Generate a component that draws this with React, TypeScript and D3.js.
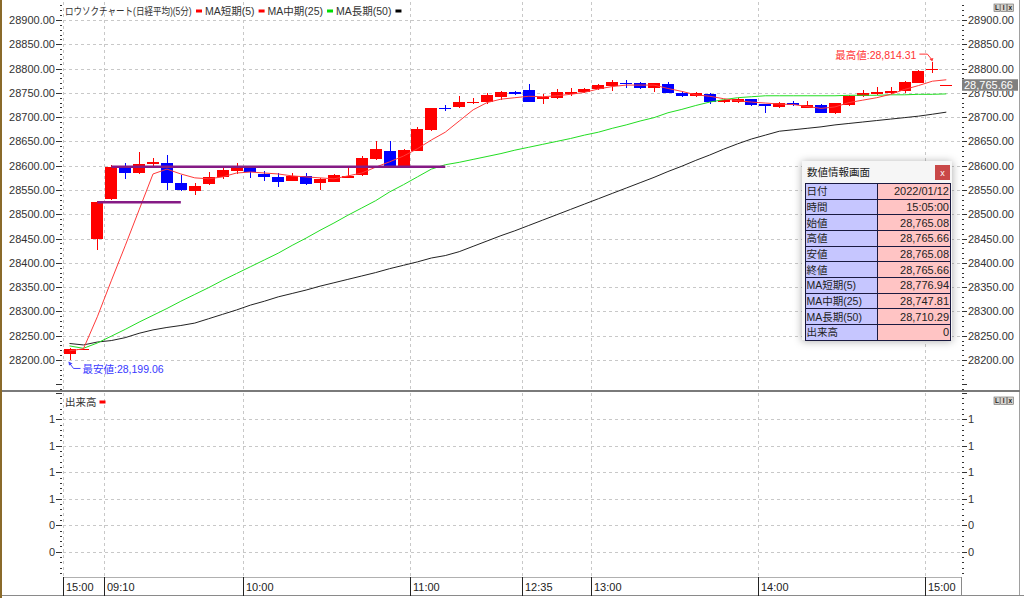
import { useEffect, useRef } from 'react'
import * as d3 from 'd3'

// 5-minute candles, Nikkei 225: [time, open, high, low, close]
const candles: [string, number, number, number, number][] = [
  ['15:00', 28212, 28225, 28199.06, 28223],
  ['15:05', 28222.48, 28222.48, 28222.48, 28222.48],
  ['09:05', 28449, 28527, 28427, 28525],
  ['09:10', 28531, 28601, 28529, 28598],
  ['09:15', 28596, 28606, 28573, 28586],
  ['09:20', 28584, 28629, 28583, 28603],
  ['09:25', 28604, 28615, 28600, 28607],
  ['09:30', 28605, 28622, 28551, 28564],
  ['09:35', 28565, 28581, 28547, 28550],
  ['09:40', 28548, 28565, 28540, 28559],
  ['09:45', 28562, 28588, 28561, 28576],
  ['09:50', 28577, 28599, 28572, 28591],
  ['09:55', 28590, 28605, 28583, 28598],
  ['10:00', 28598, 28600, 28575, 28588],
  ['10:05', 28583, 28589, 28569, 28577],
  ['10:10', 28577, 28584, 28557, 28567],
  ['10:15', 28569, 28584, 28568, 28579],
  ['10:20', 28579, 28586, 28560, 28562],
  ['10:25', 28565, 28574, 28551, 28572],
  ['10:30', 28567, 28583, 28566, 28581],
  ['10:35', 28575, 28600, 28574, 28579],
  ['10:40', 28580, 28619, 28578, 28615],
  ['10:45', 28614, 28651, 28612, 28634],
  ['10:50', 28631, 28650, 28598, 28600],
  ['10:55', 28600, 28634, 28598, 28632],
  ['11:00', 28631, 28679, 28630, 28676],
  ['11:05', 28673, 28719, 28671, 28718],
  ['11:10', 28719, 28724, 28713, 28717],
  ['11:15', 28720, 28744, 28719, 28732],
  ['11:20', 28729, 28739, 28728, 28732],
  ['11:25', 28732, 28750, 28728, 28746],
  ['11:30', 28742, 28754, 28735, 28752],
  ['12:30', 28752, 28753, 28746, 28747],
  ['12:35', 28756, 28768, 28731, 28732],
  ['12:40', 28737, 28748, 28728, 28741],
  ['12:45', 28739, 28758, 28737, 28752],
  ['12:50', 28748, 28761, 28744, 28752],
  ['12:55', 28752, 28760, 28750, 28757],
  ['13:00', 28758, 28768, 28756, 28766],
  ['13:05', 28765, 28776, 28754, 28772],
  ['13:10', 28771, 28776, 28759, 28768],
  ['13:15', 28770, 28772, 28758, 28759],
  ['13:20', 28761, 28771, 28752, 28770],
  ['13:25', 28768, 28772, 28749, 28750],
  ['13:30', 28750, 28754, 28742, 28744],
  ['13:35', 28744, 28751, 28742, 28749],
  ['13:40', 28748, 28750, 28727, 28731],
  ['13:45', 28731, 28738, 28729, 28735],
  ['13:50', 28732, 28740, 28730, 28737],
  ['13:55', 28737, 28738, 28722, 28724],
  ['14:00', 28727, 28728, 28708, 28723],
  ['14:05', 28720, 28731, 28718, 28729],
  ['14:10', 28729, 28733, 28723, 28724],
  ['14:15', 28719, 28733, 28718, 28726],
  ['14:20', 28725, 28727, 28708, 28709],
  ['14:25', 28709, 28730, 28707, 28729],
  ['14:30', 28725, 28745, 28723, 28744],
  ['14:35', 28743, 28755, 28741, 28750],
  ['14:40', 28748, 28763, 28746, 28752],
  ['14:45', 28749, 28763, 28748, 28754],
  ['14:50', 28754, 28774, 28750, 28772],
  ['14:55', 28771, 28797, 28770, 28796],
  ['15:00', 28797, 28814.31, 28790, 28799],
  ['15:05', 28765.08, 28765.66, 28765.08, 28765.66],
]

const maShort = [
  28219, 28223, 28289, 28363, 28435, 28509, 28583, 28593, 28583, 28575,
  28573, 28577, 28585, 28587, 28585, 28583, 28579, 28577, 28575, 28573,
  28579, 28585, 28597, 28608, 28620, 28635, 28653, 28669, 28692, 28715,
  28730, 28737, 28740, 28743, 28742, 28744, 28747, 28751, 28758, 28763,
  28766, 28766, 28766, 28759, 28753, 28746, 28743, 28738, 28734, 28731,
  28729, 28727, 28726, 28722, 28718, 28721, 28730, 28735, 28740, 28747,
  28757, 28765, 28774, 28776.94,
]

const maMid = [
  28229, 28224, 28235, 28249, 28263, 28278, 28292, 28306, 28321, 28335,
  28349, 28364, 28378, 28392, 28406, 28420, 28436, 28451, 28467, 28482,
  28498, 28513, 28528, 28546, 28561, 28577, 28593, 28602, 28607, 28613,
  28619, 28625, 28632, 28638, 28644, 28650, 28656, 28663, 28669, 28677,
  28684, 28692, 28699, 28709, 28716, 28724, 28731, 28736, 28740, 28742,
  28744, 28744, 28744, 28744, 28744, 28744, 28745, 28745, 28745, 28746,
  28746, 28747, 28747, 28747.81,
]

const maLong = [
  28234, 28231, 28237, 28240, 28246, 28255, 28262, 28267, 28271, 28276,
  28285, 28294, 28303, 28313, 28321, 28330, 28337, 28344, 28352, 28359,
  28366, 28373, 28380, 28388, 28395, 28402, 28410, 28415, 28423, 28434,
  28445, 28456, 28466, 28477, 28488, 28499, 28510, 28521, 28532, 28543,
  28554, 28565, 28576, 28588, 28599, 28611, 28622, 28634, 28645, 28655,
  28663, 28671, 28674, 28677, 28680, 28684, 28687, 28690, 28693, 28696,
  28699, 28702, 28706, 28710.29,
]

const volume = [
  0, 0, 0, 0, 0, 0, 0, 0, 0, 0, 0, 0, 0, 0, 0, 0, 0, 0, 0, 0, 0, 0,
  0, 0, 0, 0, 0, 0, 0, 0, 0, 0, 0, 0, 0, 0, 0, 0, 0, 0, 0, 0, 0, 0,
  0, 0, 0, 0, 0, 0, 0, 0, 0, 0, 0, 0, 0, 0, 0, 0, 0, 0, 0, 0,
]

const priceTicks = [28200, 28250, 28300, 28350, 28400, 28450, 28500, 28550, 28600, 28650, 28700, 28750, 28800, 28850, 28900]
const volTicks = [1.25, 1, 0.75, 0.5, 0.25, 0]
const volTickLabels = ['1', '1', '1', '1', '0', '0']

// time axis labels: text + candle index they start at
const timeLabels = ['15:00', '09:10', '10:00', '11:00', '12:35', '13:00', '14:00', '15:00']
const timeLabelIdx = [0, 3, 13, 25, 33, 38, 50, 62]

// horizontal price lines drawn on the chart (candle index span)
const levelPrices = [28525, 28598]
const levelFrom = [2, 3]
const levelTo = [8, 27]

const legendLabels = ['ロウソクチャート(日経平均)(5分)', 'MA短期(5)', 'MA中期(25)', 'MA長期(50)']
const legendColors = ['#ff0000', '#ff0000', '#00dd00', '#000000']

const infoLabels = ['日付', '時間', '始値', '高値', '安値', '終値', 'MA短期(5)', 'MA中期(25)', 'MA長期(50)', '出来高']
const infoValues = ['2022/01/12', '15:05:00', '28,765.08', '28,765.66', '28,765.08', '28,765.66', '28,776.94', '28,747.81', '28,710.29', '0']

const W = 1024
const H = 598
const FONT = '"Liberation Sans", "Noto Sans CJK JP", sans-serif'

export default function App() {
  const svgRef = useRef<SVGSVGElement>(null)

  useEffect(() => {
    if (!svgRef.current) return
    const svg = d3.select(svgRef.current)
    svg.selectAll('*').remove()

    const plotL = 63
    const plotR = 962
    const mainTop = 2
    const mainBot = 390
    const volTop = 393
    const volBot = 577
    const axisBot = 596

    const x = d3.scaleLinear().domain([0, candles.length - 1]).range([69.5, 946.3])
    const y = d3.scaleLinear().domain([28900, 28200]).range([20, 360])
    const yv = d3.scaleLinear().domain([1.25, 0]).range([419.3, 551.7])
    const crisp = (v: number) => Math.round(v) + 0.5
    const fmt = d3.format(',.2f')
    const last = candles[candles.length - 1][4]
    const tagY = y(last) - 6
    const tagH = 11.5

    svg.append('rect').attr('width', W).attr('height', H).attr('fill', '#fff')

    const defs = svg.append('defs')
    defs.append('clipPath').attr('id', 'main-clip')
      .append('rect').attr('x', plotL).attr('y', mainTop).attr('width', plotR - plotL).attr('height', mainBot - mainTop)
    defs.append('clipPath').attr('id', 'tag-clip')
      .append('rect').attr('x', 962).attr('y', tagY + tagH).attr('width', 62).attr('height', 20)
    const shadow = defs.append('filter').attr('id', 'panel-shadow')
      .attr('x', -0.2).attr('y', -0.2).attr('width', 1.4).attr('height', 1.4)
    shadow.append('feDropShadow').attr('dx', 0).attr('dy', 1).attr('stdDeviation', 4)
      .attr('flood-color', '#000').attr('flood-opacity', 0.35)

    // Grid
    const grid = svg.append('g').attr('stroke', '#c8c8c8').attr('stroke-dasharray', '3,3').attr('shape-rendering', 'crispEdges')
    priceTicks.forEach(p => {
      grid.append('line').attr('x1', plotL).attr('x2', plotR).attr('y1', crisp(y(p))).attr('y2', crisp(y(p)))
    })
    volTicks.forEach(v => {
      grid.append('line').attr('x1', plotL).attr('x2', plotR).attr('y1', crisp(yv(v))).attr('y2', crisp(yv(v)))
    })
    timeLabelIdx.forEach(i => {
      const tx = crisp(x(i - 0.5))
      grid.append('line').attr('x1', tx).attr('x2', tx).attr('y1', mainTop).attr('y2', mainBot)
      grid.append('line').attr('x1', tx).attr('x2', tx).attr('y1', volTop).attr('y2', volBot)
    })

    // Candles
    const main = svg.append('g').attr('clip-path', 'url(#main-clip)')
    const cg = main.append('g').attr('shape-rendering', 'crispEdges')
    candles.forEach(([, o, h, l, c], i) => {
      const col = c >= o ? '#ff0000' : '#0000ff'
      const cx = crisp(x(i))
      cg.append('line').attr('x1', cx).attr('x2', cx).attr('y1', y(h)).attr('y2', y(l)).attr('stroke', col)
      const top = y(Math.max(o, c))
      const bh = Math.max(1, y(Math.min(o, c)) - top)
      cg.append('rect').attr('x', Math.round(x(i) - 6)).attr('y', top).attr('width', 12).attr('height', bh).attr('fill', col)
    })

    // Moving averages
    const line = d3.line<number>().x((_, i) => x(i)).y(d => y(d))
    const maSeries: [number[], string][] = [[maLong, '#222222'], [maMid, '#22dd22'], [maShort, '#ff3a3a']]
    maSeries.forEach(([data, col]) => {
      main.append('path').datum(data).attr('fill', 'none').attr('stroke', col).attr('stroke-width', 1).attr('d', line)
    })

    // Horizontal level lines
    levelPrices.forEach((p, k) => {
      main.append('line')
        .attr('x1', x(levelFrom[k])).attr('x2', x(levelTo[k]))
        .attr('y1', y(p)).attr('y2', y(p))
        .attr('stroke', '#851a85').attr('stroke-width', 2.5)
    })

    // High / low annotations
    const hiIdx = d3.maxIndex(candles, d => d[2])
    const loIdx = d3.minIndex(candles, d => d[3])
    const hi = candles[hiIdx][2]
    const lo = candles[loIdx][3]
    const hx = x(hiIdx)
    const hy = y(hi)
    svg.append('path')
      .attr('d', `M${hx - 13},${hy - 7.5}H${hx - 5}L${hx - 1},${hy - 2.5}`)
      .attr('fill', 'none').attr('stroke', '#ff3333').attr('stroke-width', 1)
    svg.append('path')
      .attr('d', `M${hx - 3},${hy - 2.5}L${hx + 1},${hy - 3.5}L${hx},${hy}Z`).attr('fill', '#ff3333')
    svg.append('text').attr('x', hx - 16).attr('y', hy - 3).attr('text-anchor', 'end')
      .attr('font-size', 10.5).attr('fill', '#ff3333').text(`最高値:${fmt(hi)}`)

    const lx = x(loIdx)
    const ly = y(lo)
    svg.append('path')
      .attr('d', `M${lx - 0.5},${ly + 2}L${lx + 4},${ly + 8}H${lx + 11}`)
      .attr('fill', 'none').attr('stroke', '#4444ff').attr('stroke-width', 1)
    svg.append('path')
      .attr('d', `M${lx - 1},${ly + 1}L${lx + 3},${ly + 3}L${lx - 0.5},${ly + 5}Z`).attr('fill', '#4444ff')
    svg.append('text').attr('x', lx + 13).attr('y', ly + 12.5)
      .attr('font-size', 10.5).attr('fill', '#3838ff').text(`最安値:${fmt(lo)}`)

    // Volume bars (all zero)
    svg.append('g').selectAll('rect').data(volume).enter().append('rect')
      .attr('x', (_, i) => x(i) - 6).attr('width', 12)
      .attr('y', d => yv(d)).attr('height', d => yv(0) - yv(d)).attr('fill', '#ff0000')

    // Axes ticks and labels
    const ax = svg.append('g').attr('shape-rendering', 'crispEdges').attr('stroke', '#333')
    d3.range(28140, 28935, 10).forEach(p => {
      const ty = crisp(y(p))
      const major = p % 50 === 0
      ax.append('line').attr('x1', major ? 56 : 60).attr('x2', 62).attr('y1', ty).attr('y2', ty)
      ax.append('line').attr('x1', plotR).attr('x2', major ? 967 : 964).attr('y1', ty).attr('y2', ty)
    })
    d3.range(-0.2, 1.51, 0.05).forEach(v => {
      const ty = crisp(yv(v))
      const major = Math.abs(v * 4 - Math.round(v * 4)) < 1e-6
      ax.append('line').attr('x1', major ? 56 : 60).attr('x2', 62).attr('y1', ty).attr('y2', ty)
      ax.append('line').attr('x1', plotR).attr('x2', major ? 967 : 964).attr('y1', ty).attr('y2', ty)
    })
    const labels = svg.append('g').attr('font-size', 11).attr('fill', '#333')
    priceTicks.forEach(p => {
      labels.append('text').attr('x', 55).attr('y', y(p)).attr('dy', '0.36em').attr('text-anchor', 'end').text(p.toFixed(2))
      const covered = y(p) > tagY - 6 && y(p) < tagY + tagH + 6
      const rt = labels.append('text').attr('x', 968).attr('y', y(p)).attr('dy', '0.36em').text(p.toFixed(2))
      if (covered) rt.attr('clip-path', 'url(#tag-clip)')
    })
    volTicks.forEach((v, k) => {
      labels.append('text').attr('x', 55).attr('y', yv(v)).attr('dy', '0.36em').attr('text-anchor', 'end').text(volTickLabels[k])
      labels.append('text').attr('x', 968).attr('y', yv(v)).attr('dy', '0.36em').text(volTickLabels[k])
    })

    // Current price tag
    svg.append('rect').attr('x', 962).attr('y', tagY).attr('width', 56).attr('height', tagH).attr('fill', '#808080')
    svg.append('text').attr('x', 964).attr('y', y(last) + 4).attr('font-size', 11).attr('fill', '#fff').text(fmt(last))

    // Legends
    let lgx = 65
    legendLabels.forEach((lab, k) => {
      const t = svg.append('text').attr('x', 0).attr('y', 0).attr('font-size', 10.5).attr('fill', '#333').text(lab)
      const natural = (t.node() as SVGTextElement).getComputedTextLength()
      const sx = k === 0 ? Math.min(1, 127 / natural) : 1
      t.attr('transform', `translate(${lgx},14.5) scale(${sx},1)`)
      const w = natural * sx
      svg.append('rect').attr('x', lgx + w + 4).attr('y', 9.5).attr('width', 6).attr('height', 3).attr('fill', legendColors[k])
      lgx += w + 13
    })
    const vt = svg.append('text').attr('x', 65).attr('y', 405.5).attr('font-size', 10.5).attr('fill', '#333').text('出来高')
    const vw = (vt.node() as SVGTextElement).getComputedTextLength()
    svg.append('rect').attr('x', 65 + vw + 3).attr('y', 400.5).attr('width', 6).attr('height', 3).attr('fill', '#ff0000')

    // Frame lines
    const frame = svg.append('g').attr('shape-rendering', 'crispEdges')
    frame.append('rect').attr('x', 0).attr('y', 0).attr('width', 2).attr('height', H).attr('fill', '#8a6a2a')
    frame.append('rect').attr('x', 1019).attr('y', 0).attr('width', 1).attr('height', axisBot).attr('fill', '#a0a0a0')
    frame.append('rect').attr('x', 2).attr('y', 390).attr('width', 1018).attr('height', 2).attr('fill', '#7a7a7a')
    frame.append('line').attr('x1', plotL).attr('x2', plotR).attr('y1', volBot + 0.5).attr('y2', volBot + 0.5).attr('stroke', '#b0b0b0')
    frame.append('line').attr('x1', 2).attr('x2', W).attr('y1', axisBot - 0.5).attr('y2', axisBot - 0.5).attr('stroke', '#8a8a8a')
    frame.append('line').attr('x1', plotR - 0.5).attr('x2', plotR - 0.5).attr('y1', volBot).attr('y2', axisBot).attr('stroke', '#8a8a8a')

    // Time axis
    timeLabelIdx.forEach((i, k) => {
      const tx = crisp(x(i - 0.5))
      frame.append('line').attr('x1', tx).attr('x2', tx).attr('y1', volBot).attr('y2', axisBot).attr('stroke', '#222')
      svg.append('text').attr('x', tx + 2.5).attr('y', 591).attr('font-size', 11).attr('fill', '#222').text(timeLabels[k])
    })

    // Panel buttons
    ;[4, 397].forEach(by => {
      ;['L', 'I', 'x'].forEach((ch, k) => {
        const bx = 994 + k * 6.7
        svg.append('rect').attr('x', bx).attr('y', by).attr('width', 6).attr('height', 7.5)
          .attr('fill', '#d6d3cc').attr('stroke', '#666').attr('stroke-width', 0.6)
        svg.append('text').attr('x', bx + 3).attr('y', by + 6.3).attr('text-anchor', 'middle')
          .attr('font-size', 6.5).attr('font-weight', 'bold').attr('fill', '#222').text(ch)
      })
    })

    // Info panel
    const px = 802
    const py = 161
    const pw = 150
    const ph = 179
    const panel = svg.append('g')
    panel.append('rect').attr('x', px).attr('y', py).attr('width', pw).attr('height', ph)
      .attr('fill', '#f6f6f6').attr('filter', 'url(#panel-shadow)')
    panel.append('text').attr('x', px + 5).attr('y', py + 15).attr('font-size', 10.5).attr('fill', '#222').text('数値情報画面')
    panel.append('rect').attr('x', 935).attr('y', 165).attr('width', 15).attr('height', 15).attr('fill', '#c94848')
    panel.append('text').attr('x', 942.5).attr('y', 175.5).attr('text-anchor', 'middle').attr('font-size', 9).attr('fill', '#fff').text('x')
    const rowTop = 183.3
    const rowH = 15.7
    const colL = 805
    const colM = 877.5
    const colR = 950.5
    const tbl = panel.append('g').attr('shape-rendering', 'crispEdges')
    infoLabels.forEach((lab, r) => {
      const ry = rowTop + r * rowH
      tbl.append('rect').attr('x', colL).attr('y', ry).attr('width', colM - colL).attr('height', rowH).attr('fill', '#c6c6ff').attr('stroke', '#1a1a40')
      tbl.append('rect').attr('x', colM).attr('y', ry).attr('width', colR - colM).attr('height', rowH).attr('fill', '#ffc4c4').attr('stroke', '#1a1a40')
      panel.append('text').attr('x', colL + 1.5).attr('y', ry + rowH / 2 + 4).attr('font-size', 10.5).attr('fill', '#222').text(lab)
      panel.append('text').attr('x', colR - 1.5).attr('y', ry + rowH / 2 + 4).attr('text-anchor', 'end').attr('font-size', 11).attr('fill', '#222').text(infoValues[r])
    })
  }, [])

  return (
    <svg
      ref={svgRef}
      width={W}
      height={H}
      fontFamily={FONT}
      style={{ position: 'absolute', left: 0, top: 0, display: 'block' }}
    />
  )
}
